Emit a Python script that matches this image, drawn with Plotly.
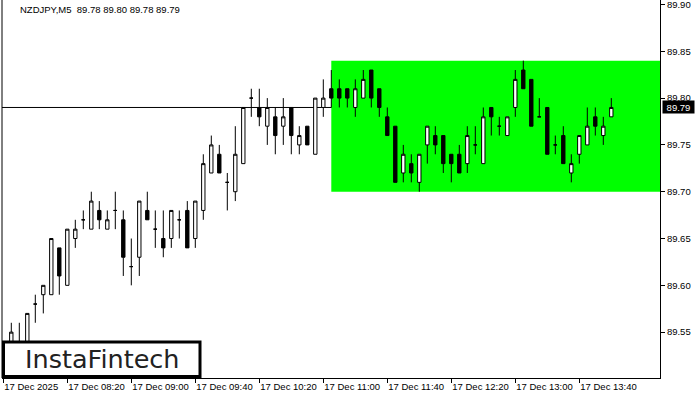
import plotly.graph_objects as go

# ---- data (NZDJPY M5, 17 Dec 2025 from 07:40) ----
opens = [89.51, 89.53, 89.53, 89.53, 89.58, 89.59, 89.59, 89.64, 89.60, 89.65,
         89.67, 89.66, 89.68, 89.66, 89.68, 89.67, 89.62, 89.63, 89.68, 89.66,
         89.65, 89.65, 89.67, 89.68, 89.65, 89.68, 89.72, 89.74, 89.71, 89.70,
         89.73, 89.80, 89.79, 89.77, 89.78, 89.77, 89.79, 89.75, 89.77, 89.74,
         89.79, 89.81, 89.81, 89.81, 89.79, 89.80, 89.83, 89.81, 89.78, 89.77,
         89.72, 89.73, 89.71, 89.75, 89.76, 89.76, 89.74, 89.74, 89.73, 89.75,
         89.73, 89.79, 89.77, 89.76, 89.79, 89.83, 89.82, 89.78, 89.79, 89.75,
         89.76, 89.72, 89.74, 89.75, 89.78, 89.76, 89.78]
highs = [89.53, 89.56, 89.56, 89.57, 89.59, 89.60, 89.65, 89.64, 89.66, 89.67,
         89.68, 89.70, 89.69, 89.68, 89.70, 89.68, 89.65, 89.69, 89.70, 89.68,
         89.68, 89.68, 89.68, 89.69, 89.69, 89.74, 89.76, 89.75, 89.72, 89.77,
         89.79, 89.81, 89.81, 89.80, 89.79, 89.80, 89.79, 89.77, 89.77, 89.80,
         89.82, 89.83, 89.82, 89.81, 89.82, 89.83, 89.83, 89.81, 89.79, 89.77,
         89.75, 89.74, 89.74, 89.77, 89.77, 89.76, 89.74, 89.75, 89.77, 89.77,
         89.79, 89.79, 89.78, 89.78, 89.83, 89.84, 89.82, 89.80, 89.79, 89.76,
         89.77, 89.74, 89.76, 89.79, 89.79, 89.78, 89.80]
lows = [89.50, 89.52, 89.51, 89.52, 89.56, 89.57, 89.59, 89.59, 89.60, 89.64,
        89.66, 89.66, 89.66, 89.66, 89.66, 89.61, 89.60, 89.61, 89.67, 89.64,
        89.63, 89.64, 89.65, 89.64, 89.64, 89.67, 89.72, 89.72, 89.68, 89.69,
        89.73, 89.78, 89.77, 89.75, 89.74, 89.75, 89.74, 89.74, 89.75, 89.74,
        89.78, 89.79, 89.79, 89.79, 89.78, 89.80, 89.79, 89.78, 89.76, 89.71,
        89.71, 89.71, 89.70, 89.73, 89.74, 89.72, 89.71, 89.72, 89.72, 89.74,
        89.73, 89.76, 89.76, 89.76, 89.78, 89.81, 89.77, 89.78, 89.74, 89.74,
        89.73, 89.71, 89.73, 89.75, 89.76, 89.75, 89.78]
closes = [89.53, 89.55, 89.52, 89.57, 89.58, 89.60, 89.65, 89.61, 89.66, 89.66,
          89.67, 89.69, 89.67, 89.67, 89.68, 89.63, 89.62, 89.69, 89.67, 89.66,
          89.64, 89.68, 89.67, 89.64, 89.69, 89.73, 89.75, 89.72, 89.71, 89.74,
          89.79, 89.80, 89.78, 89.79, 89.76, 89.78, 89.76, 89.76, 89.75, 89.80,
          89.80, 89.80, 89.80, 89.80, 89.81, 89.82, 89.80, 89.79, 89.76, 89.71,
          89.74, 89.72, 89.74, 89.77, 89.75, 89.73, 89.73, 89.72, 89.76, 89.75,
          89.78, 89.78, 89.77, 89.78, 89.82, 89.81, 89.77, 89.78, 89.74, 89.75,
          89.73, 89.73, 89.76, 89.77, 89.77, 89.77, 89.79]

tick_idx = [0, 8, 16, 24, 32, 40, 48, 56, 64, 72]
tick_labels = ["17 Dec 2025", "17 Dec 08:20", "17 Dec 09:00", "17 Dec 09:40",
               "17 Dec 10:20", "17 Dec 11:00", "17 Dec 11:40", "17 Dec 12:20",
               "17 Dec 13:00", "17 Dec 13:40"]
price_ticks = [89.55, 89.60, 89.65, 89.70, 89.75, 89.80, 89.85, 89.90]

bid_price = 89.79
zone_start = 41
zone_low, zone_high = 89.70, 89.84
title_text = "NZDJPY,M5\u00a0\u00a089.78 89.80 89.78 89.79"

xs = list(range(len(opens)))

FONT = "Liberation Sans"

fig = go.Figure()
fig.add_trace(go.Candlestick(
    x=xs, open=opens, high=highs, low=lows, close=closes,
    increasing=dict(line=dict(color="black", width=1), fillcolor="white"),
    decreasing=dict(line=dict(color="black", width=1), fillcolor="black"),
    whiskerwidth=0, hoverinfo="skip", showlegend=False,
))

W, H = 700, 400
ML, MR, MT, MB = 2, 40, 0, 22
pw, ph = W - ML - MR, H - MT - MB

def px(x):
    return (x - ML) / pw

def py(y):
    return (H - MB - y) / ph

shapes = [
    dict(type="rect", xref="x", yref="y", x0=zone_start, x1=82.0875,
         y0=zone_low, y1=zone_high, fillcolor="#00FF00",
         line=dict(width=0), layer="below"),
    dict(type="line", xref="paper", yref="y", x0=0, x1=1,
         y0=bid_price, y1=bid_price, line=dict(color="black", width=1),
         layer="below"),
    dict(type="line", xref="paper", yref="paper", x0=0, x1=0, y0=0, y1=1,
         line=dict(color="black", width=1)),
    dict(type="rect", xref="paper", yref="paper", x0=px(3.5), x1=px(200),
         y0=py(376.5), y1=py(342), fillcolor="white",
         line=dict(color="black", width=3), layer="above"),
]

annotations = [
    dict(xref="paper", yref="paper", x=px(18), y=py(9.5), xanchor="left",
         yanchor="middle", text=title_text, showarrow=False,
         font=dict(family=FONT, size=9.5, color="black")),
    dict(xref="paper", yref="y", x=px(661.5), y=bid_price, xanchor="left",
         yanchor="middle", text=f"{bid_price:.2f}", showarrow=False,
         bgcolor="black", width=29, height=10, borderpad=1, align="center",
         font=dict(family=FONT, size=9.5, color="white")),
    dict(xref="paper", yref="paper", x=px(102), y=py(358.5), xanchor="center",
         yanchor="middle", text="InstaFintech", showarrow=False,
         font=dict(family="DejaVu Sans", size=25.5, color="#222222")),
]

fig.update_layout(
    width=W, height=H,
    margin=dict(l=ML, r=MR, t=MT, b=MB, pad=0),
    paper_bgcolor="white", plot_bgcolor="white",
    boxgap=0.4,
    shapes=shapes, annotations=annotations,
    showlegend=False,
    xaxis=dict(
        range=[-0.1625, 82.0875], rangeslider=dict(visible=False),
        showline=True, linecolor="black", linewidth=1,
        ticks="outside", ticklen=4, tickcolor="black",
        tickvals=tick_idx, ticktext=tick_labels,
        ticklabelposition="outside right", tickangle=0,
        ticklabeloverflow="allow",
        tickfont=dict(family=FONT, size=9.5, color="black"),
        showgrid=False, zeroline=False, fixedrange=True,
    ),
    yaxis=dict(
        side="right", range=[89.5010, 89.9048],
        showline=True, linecolor="black", linewidth=1,
        ticks="outside", ticklen=4, tickcolor="black",
        tickvals=price_ticks, ticktext=[f"{v:.2f}" for v in price_ticks],
        ticklabeloverflow="allow",
        tickfont=dict(family=FONT, size=9.5, color="black"),
        showgrid=False, zeroline=False, fixedrange=True,
    ),
)

fig.write_html(
    "out.html",
    config={"displayModeBar": False},
    post_script="document.body.style.margin='0';document.body.style.padding='0';",
)
